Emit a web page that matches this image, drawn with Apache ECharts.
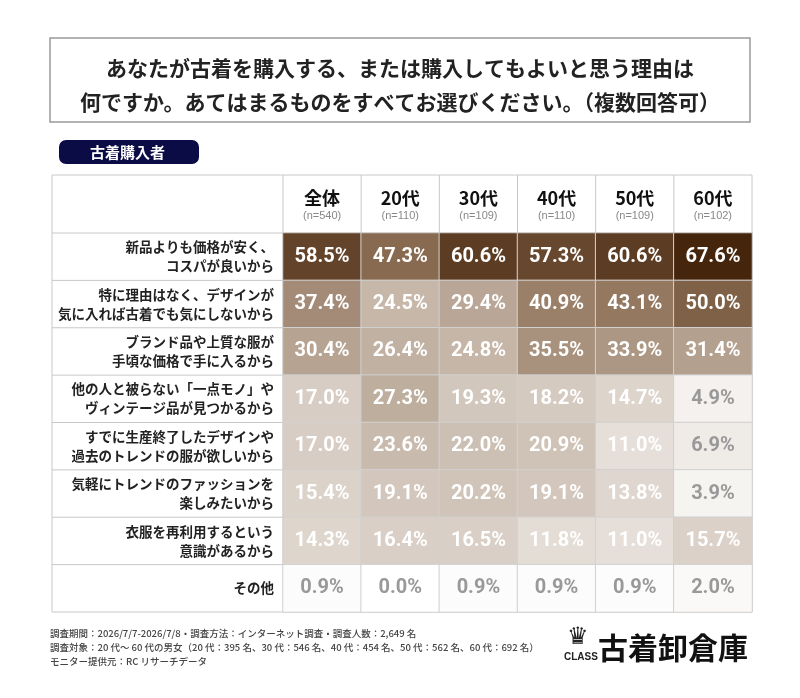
<!DOCTYPE html><html><head><meta charset="utf-8"><script src="https://cdn.jsdelivr.net/npm/echarts@6/dist/echarts.min.js"></script>
<style>body{margin:0}#c{width:800px;height:698px}</style></head><body><div id="c"></div><script>
const groups=['全体','20代','30代','40代','50代','60代'];
const counts=['(n=540)','(n=110)','(n=109)','(n=110)','(n=109)','(n=102)'];
const reasons=['新品よりも価格が安く、\nコスパが良いから','特に理由はなく、デザインが\n気に入れば古着でも気にしないから','ブランド品や上質な服が\n手頃な価格で手に入るから','他の人と被らない「一点モノ」や\nヴィンテージ品が見つかるから','すでに生産終了したデザインや\n過去のトレンドの服が欲しいから','気軽にトレンドのファッションを\n楽しみたいから','衣服を再利用するという\n意識があるから','その他'];
const values=[
[58.5,47.3,60.6,57.3,60.6,67.6],
[37.4,24.5,29.4,40.9,43.1,50.0],
[30.4,26.4,24.8,35.5,33.9,31.4],
[17.0,27.3,19.3,18.2,14.7,4.9],
[17.0,23.6,22.0,20.9,11.0,6.9],
[15.4,19.1,20.2,19.1,13.8,3.9],
[14.3,16.4,16.5,11.8,11.0,15.7],
[0.9,0.0,0.9,0.9,0.9,2.0]];
const data=[];values.forEach((r,i)=>r.forEach((v,j)=>data.push({value:[j,i,v],label:{color:v<10?'#999':'#fff'}})));
const L=52,R=752,X0=283,T=175,Y0=233,B=612;
const rowH=(B-Y0)/8,colW=(R-X0)/6;
const g=[];
g.push({type:'rect',shape:{x:50,y:38,width:700,height:84},style:{fill:'#fff',stroke:'#999',lineWidth:1.5}});
g.push({type:'text',x:400,y:68,style:{text:'あなたが古着を購入する、または購入してもよいと思う理由は',font:'bold 21px "Noto Sans CJK JP"',fill:'#222',align:'center',verticalAlign:'middle'}});
g.push({type:'text',x:400,y:102,style:{text:'何ですか。あてはまるものをすべてお選びください。（複数回答可）',font:'bold 21px "Noto Sans CJK JP"',fill:'#222',align:'center',verticalAlign:'middle'}});
g.push({type:'rect',shape:{x:59,y:140,width:140,height:24,r:7},style:{fill:'#0b0b45'}});
g.push({type:'text',x:90,y:152,style:{text:'古着購入者',font:'bold 15px "Noto Sans CJK JP"',fill:'#fff',verticalAlign:'middle'}});
g.push({type:'rect',shape:{x:L,y:T,width:R-L,height:B-T},style:{fill:'none',stroke:'#c8c8c8',lineWidth:1}});
for(let i=0;i<8;i++)g.push({type:'line',shape:{x1:L,y1:Y0+i*rowH,x2:X0,y2:Y0+i*rowH},style:{stroke:'#c8c8c8'}});
for(let j=0;j<6;j++)g.push({type:'line',shape:{x1:X0+j*colW,y1:T,x2:X0+j*colW,y2:Y0},style:{stroke:'#c8c8c8'}});
g.push({type:'text',x:50,y:647,style:{text:'調査期間：2026/7/7-2026/7/8・調査方法：インターネット調査・調査人数：2,649 名\n調査対象：20 代～ 60 代の男女（20 代：395 名、30 代：546 名、40 代：454 名、50 代：562 名、60 代：692 名）\nモニター提供元：RC リサーチデータ',font:'500 9.5px "Noto Sans CJK JP"',fill:'#444',lineHeight:14,verticalAlign:'middle'}});
g.push({type:'text',x:567,y:626,style:{text:'♛',font:'24px "DejaVu Sans"',fill:'#222'}});
g.push({type:'text',x:564,y:652,style:{text:'CLASS',font:'bold 10px "Liberation Sans"',fill:'#222'}});
g.push({type:'text',x:598,y:648,style:{text:'古着卸倉庫',font:'bold 30px "Noto Sans CJK JP"',fill:'#111',verticalAlign:'middle'}});
const chart=echarts.init(document.getElementById('c'));
chart.setOption({
animation:false,
grid:{left:X0,right:800-R,top:Y0,bottom:698-B},
xAxis:{type:'category',data:groups,position:'top',axisLine:{show:false},axisTick:{show:false},
 axisLabel:{margin:10,formatter:(v,i)=>'{a|'+v+'}\n{b|'+counts[i]+'}',rich:{a:{fontFamily:'Noto Sans CJK JP',fontWeight:'bold',fontSize:18,color:'#111',lineHeight:22},b:{fontSize:11,color:'#888',lineHeight:14}}}},
yAxis:{type:'category',data:reasons,inverse:true,axisLine:{show:false},axisTick:{show:false},
 axisLabel:{margin:9,align:'right',fontFamily:'Noto Sans CJK JP',fontWeight:'bold',fontSize:13.5,lineHeight:19,color:'#222'}},
visualMap:{show:false,min:0,max:70,dimension:2,inRange:{color:['#ffffff','#c9bbae','#8a6c52','#3d1e04']}},
series:[{type:'heatmap',data:data,itemStyle:{borderColor:'#d0d0d0',borderWidth:1},
 label:{show:true,formatter:p=>p.value[2].toFixed(1)+'%',fontFamily:'Roboto',fontWeight:'bold',fontSize:20}}],
graphic:g});
</script></body></html>
